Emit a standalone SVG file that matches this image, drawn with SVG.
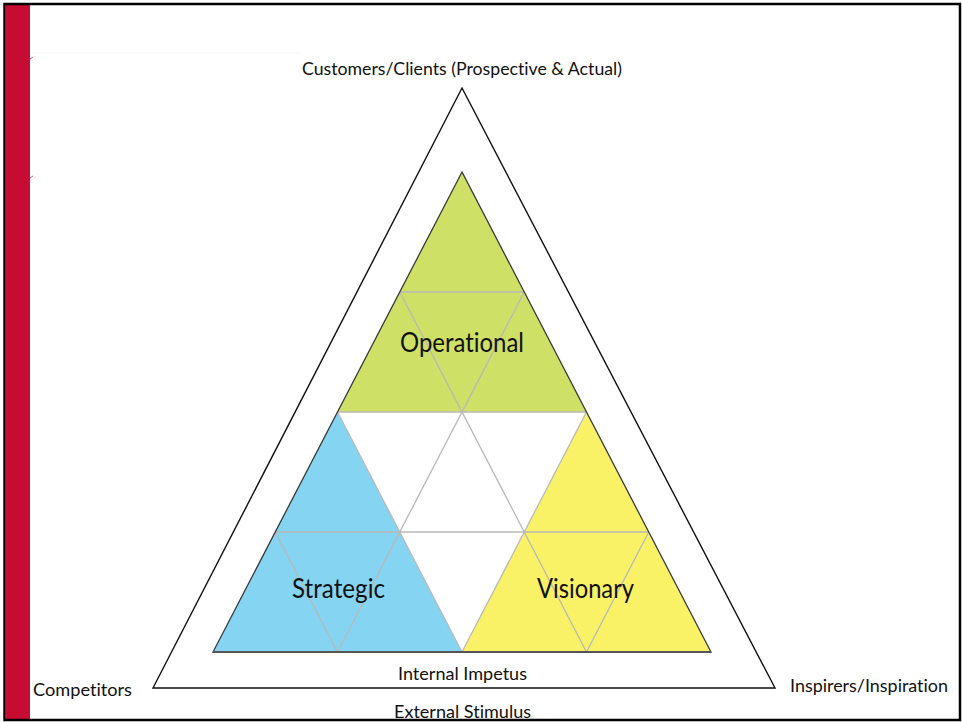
<svg xmlns="http://www.w3.org/2000/svg" width="962" height="722" viewBox="0 0 962 722">
  <style>
    .lbl { font-family: Lato, "Open Sans", "Liberation Sans", sans-serif; fill: #111111; font-variant-ligatures: none; font-feature-settings: "liga" 0; }
    .small { font-size: 16.5px; }
    .big { font-size: 26px; }
    .grid { stroke: #b9b9b9; stroke-width: 1.3; fill: none; }
  </style>

  <!-- page background and frame -->
  <rect x="0" y="0" width="962" height="722" fill="#ffffff"/>
  <rect x="6" y="5" width="24" height="715" fill="#c60c30"/>
  <rect x="4.5" y="4" width="955.5" height="716" fill="none" stroke="#000" stroke-width="2.5"/>
  <line x1="31" y1="53" x2="300" y2="53" stroke="#f7f7f4" stroke-width="1"/>
  <path d="M30 59 L33 57 M30 178 L33 176" stroke="#e06070" stroke-width="1"/>

  <!-- outer frame triangle -->
  <g id="outer-triangle">
    <polygon points="462,88 153,688 775,688" fill="#ffffff" stroke="#111" stroke-width="1.4"/>
  </g>

  <!-- four sub-triangles of the inner triangle -->
  <g id="operational">
    <polygon points="462,172 337.5,412 586.5,412" fill="#cee065"/>
  </g>
  <g id="strategic">
    <polygon points="337.5,412 213,652 462,652" fill="#84d4f2"/>
  </g>
  <g id="visionary">
    <polygon points="586.5,412 462,652 711,652" fill="#f9f266"/>
  </g>
  <g id="center">
    <polygon points="337.5,412 586.5,412 462,652" fill="#ffffff"/>
  </g>

  <!-- connectors: grid lines subdividing the inner triangle -->
  <g id="connectors">
    <g class="grid">
      <line x1="399.75" y1="292" x2="524.25" y2="292"/>
      <line x1="337.5" y1="412" x2="586.5" y2="412"/>
      <line x1="275.25" y1="532" x2="648.75" y2="532"/>
      <line x1="337.5" y1="652" x2="524.25" y2="292"/>
      <line x1="462" y1="652" x2="586.5" y2="412"/>
      <line x1="586.5" y1="652" x2="648.75" y2="532"/>
      <line x1="586.5" y1="652" x2="399.75" y2="292"/>
      <line x1="462" y1="652" x2="337.5" y2="412"/>
      <line x1="337.5" y1="652" x2="275.25" y2="532"/>
    </g>
    <polygon points="462,172 213,652 711,652" fill="none" stroke="#3a3a3a" stroke-width="1.3"/>
    <line x1="213" y1="652" x2="711" y2="652" stroke="#555" stroke-width="2"/>
  </g>

  <!-- labels -->
  <g id="labels">
    <text class="lbl small" x="462" y="75" text-anchor="middle" textLength="320" lengthAdjust="spacingAndGlyphs">Customers/Clients (Prospective &amp; Actual)</text>
    <text class="lbl big" x="462" y="352" text-anchor="middle" textLength="124" lengthAdjust="spacingAndGlyphs">Operational</text>
    <text class="lbl big" x="338.5" y="598" text-anchor="middle" textLength="93" lengthAdjust="spacingAndGlyphs">Strategic</text>
    <text class="lbl big" x="585.5" y="598" text-anchor="middle" textLength="97" lengthAdjust="spacingAndGlyphs">Visionary</text>
    <text class="lbl small" x="33" y="696" textLength="99" lengthAdjust="spacingAndGlyphs">Competitors</text>
    <text class="lbl small" x="790" y="692" textLength="158" lengthAdjust="spacingAndGlyphs">Inspirers/Inspiration</text>
    <text class="lbl small" x="462.5" y="680" text-anchor="middle" textLength="129" lengthAdjust="spacingAndGlyphs">Internal Impetus</text>
    <text class="lbl small" x="462.5" y="718" text-anchor="middle" textLength="137" lengthAdjust="spacingAndGlyphs">External Stimulus</text>
  </g>
</svg>
